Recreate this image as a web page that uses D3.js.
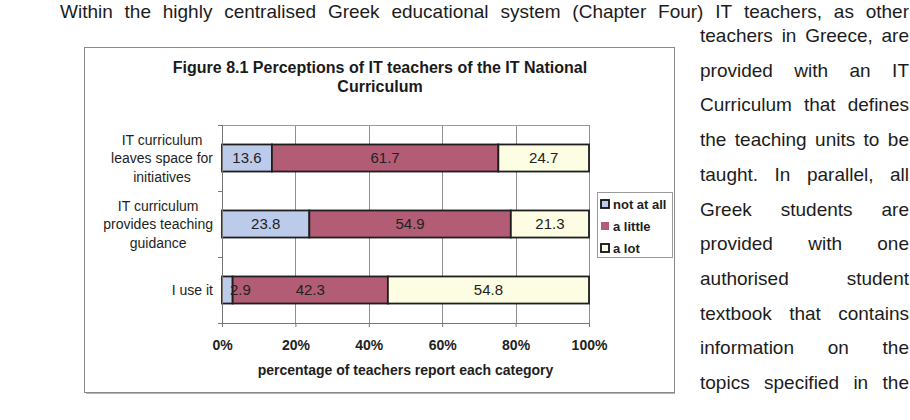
<!DOCTYPE html>
<html lang="en">
<head>
<meta charset="UTF-8">
<title>Figure 8.1</title>
<style>
  body { margin: 0; background: #fff; }
  svg { display: block; font-family: Arial, "Liberation Sans", sans-serif; }
</style>
</head>
<body>
<svg width="910" height="420"></svg>

<script src="https://cdnjs.cloudflare.com/ajax/libs/d3/7.8.5/d3.min.js"></script>
<script>

  // data
  var categoryLines = [
    ["IT curriculum", "leaves space for", "initiatives"],
    ["IT curriculum", "provides teaching", "guidance"],
    ["I use it"]
  ];
  var seriesNames = ["not at all", "a little", "a lot"];
  var notAtAll = [13.6, 23.8, 2.9];
  var aLittle = [61.7, 54.9, 42.3];
  var aLot = [24.7, 21.3, 54.8];
  var xTicks = [0, 20, 40, 60, 80, 100];
  var seriesColors = ["#bccbea", "#b25d75", "#fdfde3"];

  var titleLines = ["Figure 8.1 Perceptions of IT teachers of the IT National", "Curriculum"];
  var xTitle = "percentage of teachers report each category";

  // surrounding page text
  var topLine = "Within the highly centralised Greek educational system (Chapter Four) IT teachers, as other";
  var sideLines = [
    "teachers in Greece, are",
    "provided with an IT",
    "Curriculum that defines",
    "the teaching units to be",
    "taught. In parallel, all",
    "Greek students are",
    "provided with one",
    "authorised student",
    "textbook that contains",
    "information on the",
    "topics specified in the"
  ];

  var svg = d3.select("svg");
  svg.append("rect").attr("width", 910).attr("height", 420).attr("fill", "#fff");

  var frame = {left: 84, top: 47, right: 674, bottom: 392};
  var plot = {left: 222, top: 125, right: 589, bottom: 323};

  // justified paragraph text, word by word
  var justify = function(str, x0, x1, baseline) {
    var words = str.split(" ");
    var g = svg.append("g").attr("class", "para");
    var nodes = words.map(function(w) {
      return g.append("text").attr("y", baseline).attr("font-size", 19)
        .attr("fill", "#1c1c1c").text(w);
    });
    var widths = nodes.map(function(n) { return n.node().getComputedTextLength(); });
    var gap = (x1 - x0 - d3.sum(widths)) / Math.max(1, words.length - 1);
    var cx = x0;
    nodes.forEach(function(n, i) {
      n.attr("x", cx);
      cx += widths[i] + gap;
    });
  };

  justify(topLine, 60, 909, 18);
  sideLines.forEach(function(l, i) { justify(l, 700, 909, 42 + i * 34.7); });

  // chart frame with a little shadow
  svg.append("line")
    .attr("x1", frame.left + 2).attr("x2", frame.right + 1)
    .attr("y1", frame.bottom + 1).attr("y2", frame.bottom + 1)
    .attr("stroke", "#b5b5b5").attr("stroke-width", 2);
  svg.append("rect")
    .attr("x", frame.left + 0.5).attr("y", frame.top + 0.5)
    .attr("width", frame.right - frame.left).attr("height", frame.bottom - frame.top)
    .attr("fill", "#fff").attr("stroke", "#8a8a8a");

  svg.selectAll(".title")
    .data(titleLines)
    .enter()
    .append("text")
    .attr("class", "title")
    .attr("x", 380)
    .attr("y", function(d, i) { return 73 + i * 19; })
    .attr("text-anchor", "middle")
    .attr("font-size", 16)
    .attr("font-weight", "bold")
    .attr("fill", "#1a1a1a")
    .text(function(d) { return d; });

  var x = d3.scaleLinear().domain([0, 100]).range([plot.left, plot.right]);
  var y = d3.scaleBand()
    .domain(d3.range(categoryLines.length))
    .range([plot.top, plot.bottom])
    .paddingInner(0.59)
    .paddingOuter(0.295);

  // gridlines + plot border
  svg.selectAll(".grid")
    .data(xTicks.slice(1))
    .enter()
    .append("line")
    .attr("class", "grid")
    .attr("x1", function(d) { return Math.round(x(d)) + 0.5; })
    .attr("x2", function(d) { return Math.round(x(d)) + 0.5; })
    .attr("y1", plot.top).attr("y2", plot.bottom)
    .attr("stroke", "#8f8f8f");
  svg.append("line")
    .attr("x1", plot.left).attr("x2", plot.right)
    .attr("y1", plot.top + 0.5).attr("y2", plot.top + 0.5)
    .attr("stroke", "#9a9a9a");

  // stacked bars
  var rows = categoryLines.map(function(c, i) {
    return {idx: i, "not at all": notAtAll[i], "a little": aLittle[i], "a lot": aLot[i]};
  });
  var stacked = d3.stack().keys(seriesNames)(rows);

  svg.selectAll(".layer")
    .data(stacked)
    .enter()
    .append("g")
    .attr("class", "layer")
    .attr("fill", function(d, i) { return seriesColors[i]; })
    .selectAll("rect")
    .data(function(d) { return d; })
    .enter()
    .append("rect")
    .attr("x", function(d) { return x(d[0]); })
    .attr("y", function(d) { return y(d.data.idx); })
    .attr("width", function(d) { return x(d[1]) - x(d[0]); })
    .attr("height", y.bandwidth())
    .attr("stroke", "#1e1e1e")
    .attr("stroke-width", 1.8);

  // value labels drawn on top of every segment
  svg.selectAll(".vlayer")
    .data(stacked)
    .enter()
    .append("g")
    .attr("class", "vlayer")
    .selectAll("text")
    .data(function(d) { return d; })
    .enter()
    .append("text")
    .attr("y", function(d) { return y(d.data.idx) + y.bandwidth() / 2 + 5; })
    .attr("font-size", 15)
    .attr("fill", "#222")
    .attr("text-anchor", "middle")
    .text(function(d) { return d3.format(".1f")(d[1] - d[0]); })
    .each(function(d) {
      var w = this.getComputedTextLength();
      var segW = x(d[1]) - x(d[0]);
      var cx = segW > w + 4 ? (x(d[0]) + x(d[1])) / 2 : x(d[0]) + 8 + w / 2;
      d3.select(this).attr("x", cx);
    });

  // x axis
  var xAxis = d3.axisBottom(x)
    .tickValues(xTicks)
    .tickFormat(function(d) { return d + "%"; })
    .tickSize(4)
    .tickPadding(13)
    .tickSizeOuter(0);

  var gx = svg.append("g")
    .attr("transform", "translate(0," + plot.bottom + ")")
    .call(xAxis);
  gx.select(".domain").attr("stroke", "#777").attr("d", "M" + (plot.left - 4) + ",0.5H" + plot.right);
  gx.selectAll(".tick line").attr("stroke", "#777");
  gx.selectAll(".tick text")
    .attr("font-family", "Arial, 'Liberation Sans', sans-serif")
    .attr("font-size", 14)
    .attr("font-weight", "bold")
    .attr("fill", "#222");

  // y axis line with ticks at band edges
  svg.append("line")
    .attr("x1", plot.left + 0.5).attr("x2", plot.left + 0.5)
    .attr("y1", plot.top).attr("y2", plot.bottom)
    .attr("stroke", "#777");
  svg.selectAll(".ytick")
    .data(d3.range(categoryLines.length + 1))
    .enter()
    .append("line")
    .attr("class", "ytick")
    .attr("x1", plot.left - 4).attr("x2", plot.left)
    .attr("y1", function(d) { return plot.top + d * y.step() + 0.5; })
    .attr("y2", function(d) { return plot.top + d * y.step() + 0.5; })
    .attr("stroke", "#777");

  // category labels: lines centred inside a right-aligned block
  categoryLines.forEach(function(lines, i) {
    var g = svg.append("g");
    var cy = y(i) + y.bandwidth() / 2;
    var texts = lines.map(function(l, j) {
      return g.append("text")
        .attr("y", cy + (j - (lines.length - 1) / 2) * 18.5 + 5)
        .attr("font-size", 14)
        .attr("fill", "#1e1e1e")
        .attr("text-anchor", "middle")
        .text(l);
    });
    var blockW = d3.max(texts, function(t) { return t.node().getComputedTextLength(); });
    texts.forEach(function(t) { t.attr("x", plot.left - 9 - blockW / 2); });
  });

  svg.append("text")
    .attr("x", (plot.left + plot.right) / 2)
    .attr("y", 375)
    .attr("text-anchor", "middle")
    .attr("font-size", 14)
    .attr("font-weight", "bold")
    .attr("fill", "#1e1e1e")
    .text(xTitle);

  // legend
  var legend = svg.append("g").attr("transform", "translate(597,192)");
  legend.append("rect")
    .attr("x", 0.5).attr("y", 0.5).attr("width", 75).attr("height", 65)
    .attr("fill", "#fff").attr("stroke", "#9a9a9a");
  var item = legend.selectAll(".item")
    .data(seriesNames)
    .enter()
    .append("g")
    .attr("class", "item")
    .attr("transform", function(d, i) { return "translate(0," + (12 + i * 22) + ")"; });
  item.append("rect")
    .attr("x", 4).attr("y", -4).attr("width", 8).attr("height", 8)
    .attr("fill", function(d, i) { return seriesColors[i]; })
    .attr("stroke", function(d, i) { return i == 1 ? "none" : "#111"; })
    .attr("stroke-width", 1.8);
  item.append("text")
    .attr("x", 16).attr("y", 4.5)
    .attr("font-size", 13)
    .attr("font-weight", "bold")
    .attr("fill", "#1e1e1e")
    .text(function(d) { return d; });

</script>
</body>
</html>
